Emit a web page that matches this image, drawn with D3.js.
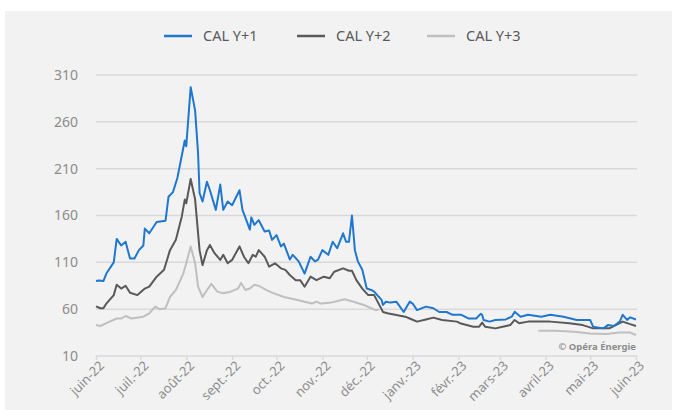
<!DOCTYPE html>
<html>
<head>
<meta charset="utf-8">
<script src="https://cdn.jsdelivr.net/npm/d3@7"></script>
<style>
  body { margin: 0; background: #fff; }
  text { font-family: "Noto Sans", sans-serif; }
</style>
</head>
<body>
<script>
// CAL Y+1 / Y+2 / Y+3 prices
var calY1 = [
  ["2022-06-01", 90], ["2022-06-03", 90.5], ["2022-06-06", 90], ["2022-06-08", 98],
  ["2022-06-13", 110], ["2022-06-15", 135], ["2022-06-18", 128], ["2022-06-21", 132],
  ["2022-06-24", 114], ["2022-06-27", 114], ["2022-06-30", 123], ["2022-07-03", 128],
  ["2022-07-04", 146], ["2022-07-07", 141], ["2022-07-12", 153], ["2022-07-18", 154.5],
  ["2022-07-20", 180], ["2022-07-23", 185], ["2022-07-26", 200], ["2022-07-27", 208],
  ["2022-07-31", 240], ["2022-08-01", 234], ["2022-08-04", 297], ["2022-08-07", 272],
  ["2022-08-09", 226], ["2022-08-10", 184], ["2022-08-12", 175], ["2022-08-15", 196],
  ["2022-08-17", 187], ["2022-08-21", 166], ["2022-08-24", 193], ["2022-08-26", 166],
  ["2022-08-29", 175], ["2022-09-01", 171], ["2022-09-06", 187], ["2022-09-08", 166],
  ["2022-09-13", 145], ["2022-09-14", 158], ["2022-09-16", 150], ["2022-09-19", 155],
  ["2022-09-23", 143], ["2022-09-26", 144], ["2022-09-28", 134], ["2022-10-01", 139],
  ["2022-10-04", 127], ["2022-10-06", 130], ["2022-10-10", 113], ["2022-10-12", 118],
  ["2022-10-16", 111], ["2022-10-20", 98], ["2022-10-24", 116], ["2022-10-27", 111],
  ["2022-10-29", 112.6], ["2022-11-01", 123], ["2022-11-05", 118], ["2022-11-08", 132],
  ["2022-11-11", 125], ["2022-11-15", 141], ["2022-11-17", 132], ["2022-11-19", 132],
  ["2022-11-21", 160], ["2022-11-23", 123], ["2022-11-25", 111], ["2022-11-28", 102],
  ["2022-12-01", 82], ["2022-12-04", 80.5], ["2022-12-06", 78.7], ["2022-12-11", 70],
  ["2022-12-12", 64.5], ["2022-12-14", 68], ["2022-12-17", 67], ["2022-12-21", 68],
  ["2022-12-26", 57], ["2022-12-30", 68], ["2023-01-01", 66], ["2023-01-04", 59],
  ["2023-01-10", 62.7], ["2023-01-15", 61], ["2023-01-19", 57], ["2023-01-24", 57],
  ["2023-01-28", 54], ["2023-02-03", 54], ["2023-02-08", 50], ["2023-02-13", 50],
  ["2023-02-16", 55], ["2023-02-17", 54], ["2023-02-18", 48.5], ["2023-02-22", 46.7],
  ["2023-02-26", 48.5], ["2023-03-05", 49], ["2023-03-09", 52], ["2023-03-11", 57.3],
  ["2023-03-15", 52], ["2023-03-20", 54], ["2023-03-29", 52], ["2023-04-04", 54],
  ["2023-04-13", 52], ["2023-04-22", 48.5], ["2023-05-01", 48.5], ["2023-05-03", 41.3],
  ["2023-05-10", 39.5], ["2023-05-13", 43], ["2023-05-17", 42], ["2023-05-21", 46.7],
  ["2023-05-23", 54], ["2023-05-26", 48.5], ["2023-05-28", 51.3], ["2023-06-01", 49]
];

var calY2 = [
  ["2022-06-01", 63], ["2022-06-04", 61], ["2022-06-06", 61], ["2022-06-08", 66],
  ["2022-06-13", 75], ["2022-06-15", 86], ["2022-06-18", 82], ["2022-06-21", 85],
  ["2022-06-24", 77.6], ["2022-06-29", 75], ["2022-07-04", 82], ["2022-07-07", 84],
  ["2022-07-12", 94.7], ["2022-07-17", 102], ["2022-07-21", 123], ["2022-07-25", 134],
  ["2022-07-29", 159], ["2022-07-31", 177], ["2022-08-01", 173], ["2022-08-04", 199],
  ["2022-08-07", 177], ["2022-08-10", 123], ["2022-08-12", 107], ["2022-08-15", 123],
  ["2022-08-17", 128.6], ["2022-08-20", 120], ["2022-08-24", 112.6], ["2022-08-26", 118],
  ["2022-08-29", 109], ["2022-09-01", 112.6], ["2022-09-06", 127], ["2022-09-09", 116],
  ["2022-09-12", 109], ["2022-09-15", 118], ["2022-09-17", 116], ["2022-09-19", 123],
  ["2022-09-23", 116], ["2022-09-26", 105.5], ["2022-09-30", 109], ["2022-10-04", 103.6],
  ["2022-10-07", 102], ["2022-10-10", 96.5], ["2022-10-14", 91], ["2022-10-17", 91],
  ["2022-10-20", 84], ["2022-10-24", 94.7], ["2022-10-28", 91], ["2022-11-02", 94.7],
  ["2022-11-06", 93], ["2022-11-09", 100], ["2022-11-15", 103.6], ["2022-11-19", 101],
  ["2022-11-21", 101], ["2022-11-24", 91], ["2022-11-28", 82], ["2022-12-02", 75],
  ["2022-12-06", 75], ["2022-12-10", 63], ["2022-12-12", 57], ["2022-12-15", 55.6],
  ["2022-12-21", 53.8], ["2022-12-27", 52], ["2022-12-30", 50], ["2023-01-04", 46.7],
  ["2023-01-10", 49], ["2023-01-15", 51], ["2023-01-21", 48.5], ["2023-01-31", 46.7],
  ["2023-02-02", 45], ["2023-02-11", 41.3], ["2023-02-15", 41.3], ["2023-02-17", 45.6],
  ["2023-02-19", 41.3], ["2023-02-26", 39.5], ["2023-03-08", 43], ["2023-03-11", 48.5],
  ["2023-03-14", 45], ["2023-03-20", 46.7], ["2023-04-04", 46.7], ["2023-04-17", 45],
  ["2023-04-26", 43], ["2023-05-03", 39.5], ["2023-05-14", 39.5], ["2023-05-21", 45],
  ["2023-05-23", 46.7], ["2023-05-28", 44], ["2023-06-01", 42]
];

// null = no quote (gap in the line)
var calY3 = [
  ["2022-06-01", 43], ["2022-06-04", 42], ["2022-06-08", 45], ["2022-06-15", 50],
  ["2022-06-18", 50], ["2022-06-21", 52.7], ["2022-06-25", 50], ["2022-07-03", 52],
  ["2022-07-07", 55.6], ["2022-07-11", 62.7], ["2022-07-14", 60], ["2022-07-18", 61],
  ["2022-07-21", 73], ["2022-07-25", 80.5], ["2022-07-30", 98], ["2022-08-01", 109],
  ["2022-08-04", 127], ["2022-08-07", 109], ["2022-08-09", 84], ["2022-08-12", 73],
  ["2022-08-15", 80.5], ["2022-08-18", 87], ["2022-08-22", 78.7], ["2022-08-26", 77],
  ["2022-08-31", 78.7], ["2022-09-05", 82], ["2022-09-07", 88], ["2022-09-10", 80.5],
  ["2022-09-13", 82], ["2022-09-16", 86], ["2022-09-19", 85], ["2022-09-24", 80.5],
  ["2022-09-28", 77.6], ["2022-10-06", 73], ["2022-10-13", 70.5], ["2022-10-20", 68],
  ["2022-10-25", 66], ["2022-10-28", 68], ["2022-10-31", 66], ["2022-11-07", 67],
  ["2022-11-16", 70.5], ["2022-11-22", 68], ["2022-11-29", 64.5], ["2022-12-04", 61],
  ["2022-12-07", 59], ["2022-12-09", 59], ["2022-12-10", null],
  ["2023-03-27", 37], ["2023-04-08", 37], ["2023-04-20", 36], ["2023-05-01", 34],
  ["2023-05-12", 33.6], ["2023-05-21", 35], ["2023-05-28", 35], ["2023-06-01", 32.4]
];

var seriesNames = ["CAL Y+1", "CAL Y+2", "CAL Y+3"];
var seriesColors = ["#1f77d0", "#595959", "#bfbfbf"];
var yTicks = [10, 60, 110, 160, 210, 260, 310];
var monthLabels = ["juin-22", "juil.-22", "août-22", "sept.-22", "oct.-22", "nov.-22", "déc.-22",
                   "janv.-23", "févr.-23", "mars-23", "avril-23", "mai-23", "juin-23"];

var W = 675, H = 410;
var parse = d3.timeParse("%Y-%m-%d");

var svg = d3.select("body").append("svg")
  .attr("width", W)
  .attr("height", H);

svg.append("rect")
  .attr("x", 5).attr("y", 11)
  .attr("width", 667).attr("height", 399)
  .attr("fill", "#f2f2f2");

var x = d3.scaleTime()
  .domain([parse("2022-06-01"), parse("2023-06-01")])
  .range([96, 636]);

var y = d3.scaleLinear()
  .domain([10, 310])
  .range([356, 75]);

// grid
svg.append("g")
  .selectAll("line")
  .data(yTicks)
  .join("line")
  .attr("x1", 96).attr("x2", 637)
  .attr("y1", d => y(d)).attr("y2", d => y(d))
  .attr("stroke", "#d9d9d9")
  .attr("stroke-width", 1.5);

// y labels
svg.append("g")
  .selectAll("text")
  .data(yTicks)
  .join("text")
  .attr("x", 78)
  .attr("y", d => y(d))
  .attr("dy", "0.35em")
  .attr("text-anchor", "end")
  .attr("fill", "#8c8c8c")
  .attr("font-size", 14)
  .text(d => d);

// x axis
var months = d3.timeMonth.range(parse("2022-06-01"), parse("2023-06-02"));
var xAxis = d3.axisBottom(x)
  .tickValues(months)
  .tickSize(4)
  .tickFormat((d, i) => monthLabels[i]);

var gx = svg.append("g")
  .attr("transform", "translate(0," + y(10) + ")")
  .call(xAxis);
gx.select(".domain").remove();
gx.selectAll(".tick line").attr("stroke", "#d9d9d9").attr("stroke-width", 1.5);
gx.selectAll(".tick text")
  .attr("fill", "#8c8c8c")
  .attr("font-size", 13)
  .attr("font-family", "Noto Sans, sans-serif")
  .attr("text-anchor", "end")
  .attr("dx", "-0.1em")
  .attr("dy", "0.5em")
  .attr("transform", "rotate(-45)");

// lines
var line = d3.line()
  .defined(d => d[1] != null)
  .x(d => x(parse(d[0])))
  .y(d => y(d[1]));

var allSeries = [calY3, calY2, calY1];
var order = [2, 1, 0];
allSeries.forEach(function (s, k) {
  svg.append("path")
    .datum(s)
    .attr("fill", "none")
    .attr("stroke", seriesColors[order[k]])
    .attr("stroke-width", 2)
    .attr("stroke-linejoin", "round")
    .attr("d", line);
});

// legend
var legendX = [164, 297, 427];
var lg = svg.append("g");
seriesNames.forEach(function (n, i) {
  lg.append("line")
    .attr("x1", legendX[i]).attr("x2", legendX[i] + 28)
    .attr("y1", 36).attr("y2", 36)
    .attr("stroke", seriesColors[i])
    .attr("stroke-width", 2.5);
  lg.append("text")
    .attr("x", legendX[i] + 39)
    .attr("y", 36)
    .attr("dy", "0.35em")
    .attr("fill", "#595959")
    .attr("font-size", 14.5)
    .text(n);
});

svg.append("text")
  .attr("x", 636)
  .attr("y", 350)
  .attr("text-anchor", "end")
  .attr("fill", "#8c8c8c")
  .attr("font-size", 9.5)
  .attr("font-weight", "bold")
  .text("© Opéra Énergie");
</script>
</body>
</html>
